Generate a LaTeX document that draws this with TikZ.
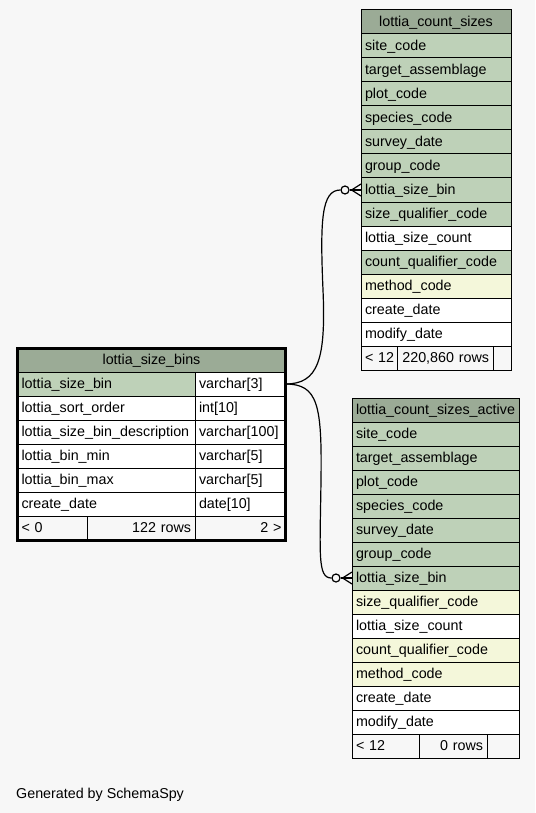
\documentclass[tikz,border=0pt]{standalone}
\usepackage{fontspec}
\setmainfont{Liberation Sans}
\usetikzlibrary{positioning,fit,calc}
\definecolor{pagebg}{HTML}{F7F7F7}
\definecolor{headgreen}{HTML}{9BAB96}
\definecolor{keygreen}{HTML}{BED1B8}
\definecolor{idxyellow}{HTML}{F4F7DA}
\newcommand{\cellfont}{\fontsize{14.3}{16}\selectfont}
\tikzset{
  cell/.style={
    draw,
    line width=1pt,
    outer sep=0pt,
    inner ysep=0pt,
    inner xsep=4pt,
    minimum height=24pt,
    text height=11.5pt,
    text depth=2pt,
    align=left,
    font=\cellfont,
    anchor=north west
  },
  headcell/.style={cell, fill=headgreen, align=center},
  keycell/.style={cell, fill=keygreen},
  idxcell/.style={cell, fill=idxyellow},
  plaincell/.style={cell, fill=white},
  footcell/.style={cell, fill=pagebg},
  relation/.style={line width=1.2pt},
  nullend/.style={circle, draw, line width=1.2pt, fill=pagebg, minimum size=8pt, inner sep=0pt}
}

\begin{document}
\begin{tikzpicture}[x=1pt, y=-1pt]
\useasboundingbox[fill=pagebg] (0,0) rectangle (535,813);

% lottia_count_sizes
\node[headcell, text width=142pt] (cs0) at (361,10) {lottia\_count\_sizes};
\foreach \kind/\txt [count=\i, remember=\i as \j (initially 0)] in {
  keycell/site\_code, keycell/target\_assemblage, keycell/plot\_code,
  keycell/species\_code, keycell/survey\_date, keycell/group\_code,
  keycell/lottia\_size\_bin, keycell/size\_qualifier\_code, plaincell/lottia\_size\_count,
  keycell/count\_qualifier\_code, idxcell/method\_code, plaincell/create\_date,
  plaincell/modify\_date}
  \node[\kind, text width=142pt] (cs\i) at (cs\j.south west) {\txt};
\node[footcell, text width=28pt] (csf1) at (cs13.south west) {\mbox{< 12}};
\node[footcell, right=0pt of csf1, text width=88pt, align=right] (csf2) {220,860 rows};
\node[footcell, right=0pt of csf2, text width=10pt] (csf3) {};

% lottia_size_bins
\node[headcell, text width=260pt] (sb0) at (17.5,348) {lottia\_size\_bins};
\foreach \kind/\col/\type [count=\i, remember=\i as \j (initially 0)] in {
  keycell/lottia\_size\_bin/varchar[3], plaincell/lottia\_sort\_order/int[10],
  plaincell/lottia\_size\_bin\_description/varchar[100], plaincell/lottia\_bin\_min/varchar[5],
  plaincell/lottia\_bin\_max/varchar[5], plaincell/create\_date/date[10]} {
  \node[\kind, text width=169.5pt] (sb\i) at (sb\j.south west) {\col};
  \node[plaincell, right=0pt of sb\i, text width=82.5pt] (sbt\i) {\type};
}
\node[footcell, text width=61.5pt] (sbf1) at (sb6.south west) {< 0};
\node[footcell, right=0pt of sbf1, text width=100pt, align=right] (sbf2) {122 rows};
\node[footcell, right=0pt of sbf2, text width=82.5pt, align=right] (sbf3) {2 >};
\node[draw, line width=3pt, inner sep=0pt, fit=(sb0)(sbf1)(sbf3)] (sbframe) {};

% lottia_count_sizes_active
\node[headcell, text width=159pt] (csa0) at (352,398) {lottia\_count\_sizes\_active};
\foreach \kind/\txt [count=\i, remember=\i as \j (initially 0)] in {
  keycell/site\_code, keycell/target\_assemblage, keycell/plot\_code,
  keycell/species\_code, keycell/survey\_date, keycell/group\_code,
  keycell/lottia\_size\_bin, idxcell/size\_qualifier\_code, plaincell/lottia\_size\_count,
  idxcell/count\_qualifier\_code, idxcell/method\_code, plaincell/create\_date,
  plaincell/modify\_date}
  \node[\kind, text width=159pt] (csa\i) at (csa\j.south west) {\txt};
\node[footcell, text width=59pt] (csaf1) at (csa13.south west) {< 12};
\node[footcell, right=0pt of csaf1, text width=60pt, align=right] (csaf2) {0 rows};
\node[footcell, right=0pt of csaf2, text width=24pt] (csaf3) {};

% relations
\node[nullend] (csdot) at ($(cs7.west)+(-16,0)$) {};
\node[nullend] (csadot) at ($(csa7.west)+(-16,0)$) {};
\coordinate (csfoot) at ($(csdot.east)+(2,0)$);
\coordinate (csup) at ($(cs7.west)+(0,-6)$);
\coordinate (csdown) at ($(cs7.west)+(0,6)$);
\coordinate (csafoot) at ($(csadot.east)+(2,0)$);
\coordinate (csaup) at ($(csa7.west)+(0,-6)$);
\coordinate (csadown) at ($(csa7.west)+(0,6)$);

\draw[relation] (sbt1.east) .. controls +(32.5,0) and +(3,70) .. ++(37.5,-94)
  .. controls +(-3,-70) and +(-19,0) .. (csdot.west);
\draw[relation] (sbt1.east) .. controls +(32.5,0) and +(1,-75) .. ++(35.5,96)
  .. controls +(-1,75) and +(-14,0) .. (csadot.west);
\draw[relation] (csdot.east) -- (cs7.west);
\draw[relation] (csfoot) -- (csup);
\draw[relation] (csfoot) -- (csdown);
\draw[relation] (csadot.east) -- (csa7.west);
\draw[relation] (csafoot) -- (csaup);
\draw[relation] (csafoot) -- (csadown);

\node[font=\cellfont, anchor=base west, inner sep=0pt] (credit) at (16,798) {Generated by SchemaSpy};
\end{tikzpicture}
\end{document}
